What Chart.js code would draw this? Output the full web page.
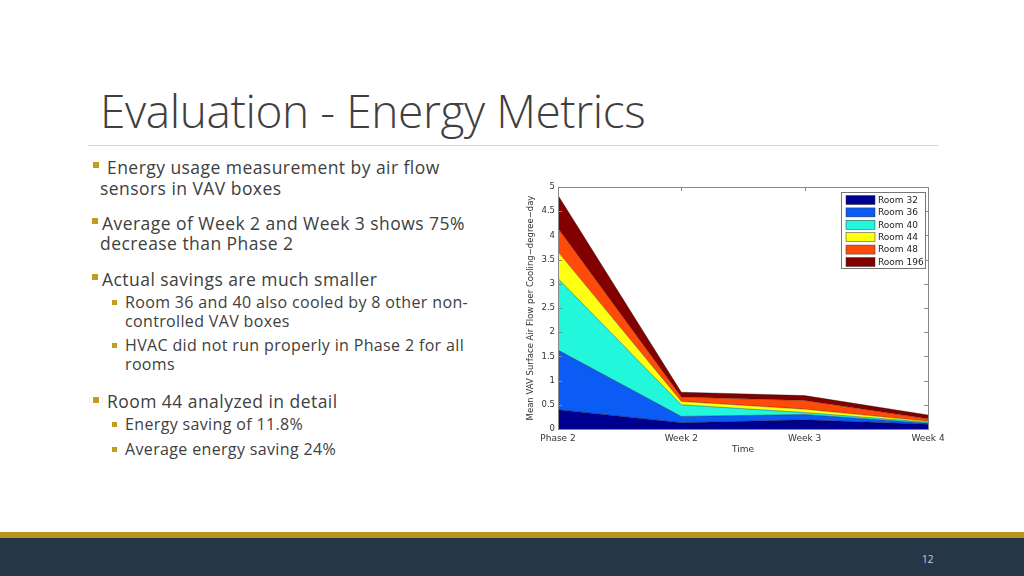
<!DOCTYPE html>
<html lang="en">
  <head>
    <meta charset="UTF-8" />
    <script src="https://cdn.jsdelivr.net/npm/chart.js"></script>
    <title>Evaluation - Energy Metrics</title>
    <style>
      body { margin: 0; width: 1024px; height: 576px; position: relative; overflow: hidden; background: #fff; font-family: "Open Sans", sans-serif; color: #404040; }
      #titulo { position: absolute; left: 100px; top: 79px; font-size: 46px; font-weight: 300; letter-spacing: -0.4px; white-space: nowrap; }
      #linha { position: absolute; left: 88px; top: 145px; width: 850px; height: 1px; background: #d6d6d6; }
      .t { position: absolute; white-space: nowrap; font-size: 17.5px; letter-spacing: 0.45px; line-height: 20px; }
      .s { position: absolute; white-space: nowrap; font-size: 16px; letter-spacing: 0.35px; line-height: 19px; }
      .q { position: absolute; width: 6px; height: 6px; background: #c39b1e; }
      .qs { position: absolute; width: 5px; height: 5px; background: #c39b1e; }
      #ouro { position: absolute; left: 0; top: 532px; width: 1024px; height: 6px; background: #b9951b; }
      #rodape { position: absolute; left: 0; top: 538px; width: 1024px; height: 38px; background: #253746; }
      #pagina { position: absolute; left: 922px; top: 552px; font-size: 10px; color: #c8d2dc; }
      #grafico { position: absolute; left: 526px; top: 178px; width: 432px; height: 277px; }
    </style>
  </head>
  <body>
    <div id="titulo">Evaluation - Energy Metrics</div>
    <div id="linha"></div>

    <div class="q" style="left:93px; top:162px"></div>
    <div class="t" style="left:107px; top:157px">Energy usage measurement by air flow</div>
    <div class="t" style="left:100px; top:178px">sensors in VAV boxes</div>

    <div class="q" style="left:92px; top:218px"></div>
    <div class="t" style="left:102px; top:213px">Average of Week 2 and Week 3 shows 75%</div>
    <div class="t" style="left:100px; top:233px">decrease than Phase 2</div>

    <div class="q" style="left:92px; top:274px"></div>
    <div class="t" style="left:102px; top:269px">Actual savings are much smaller</div>
    <div class="qs" style="left:112px; top:300px"></div>
    <div class="s" style="left:125px; top:293px">Room 36 and 40 also cooled by 8 other non-</div>
    <div class="s" style="left:125px; top:312px">controlled VAV boxes</div>
    <div class="qs" style="left:112px; top:343px"></div>
    <div class="s" style="left:125px; top:336px">HVAC did not run properly in Phase 2 for all</div>
    <div class="s" style="left:125px; top:355px">rooms</div>

    <div class="q" style="left:93px; top:397px"></div>
    <div class="t" style="left:107px; top:391px">Room 44 analyzed in detail</div>
    <div class="qs" style="left:112px; top:422px"></div>
    <div class="s" style="left:125px; top:415px">Energy saving of 11.8%</div>
    <div class="qs" style="left:112px; top:447px"></div>
    <div class="s" style="left:125px; top:440px">Average energy saving 24%</div>

    <div id="grafico"><canvas id="myChart"></canvas></div>

    <div id="ouro"></div>
    <div id="rodape"></div>
    <div id="pagina">12</div>
  </body>
  <script>
    // dados (valores por sala, empilhados)
    const periodos = ["Phase 2", "Week 2", "Week 3", "Week 4"];
    const room32 = [0.40, 0.13, 0.19, 0.10];
    const room36 = [1.23, 0.13, 0.11, 0.02];
    const room40 = [1.48, 0.24, 0.04, 0.02];
    const room44 = [0.55, 0.07, 0.07, 0.02];
    const room48 = [0.49, 0.09, 0.18, 0.05];
    const room196 = [0.68, 0.10, 0.10, 0.08];
    const yTicks = [0, 0.5, 1, 1.5, 2, 2.5, 3, 3.5, 4, 4.5, 5];

    const salas = [
      { label: "Room 32", data: room32, cor: "#00008f" },
      { label: "Room 36", data: room36, cor: "#0a5cf5" },
      { label: "Room 40", data: room40, cor: "#22f7dc" },
      { label: "Room 44", data: room44, cor: "#ffff10" },
      { label: "Room 48", data: room48, cor: "#ff4a0a" },
      { label: "Room 196", data: room196, cor: "#820000" },
    ];

    // caixa em volta da area e ticks internos (estilo matlab)
    const caixa = {
      id: "caixa",
      afterDatasetsDraw(chart) {
        const c = chart.ctx;
        const a = chart.chartArea;
        const y = chart.scales.y;
        const x = chart.scales.x;
        c.save();
        c.strokeStyle = "#8a8a8a";
        c.lineWidth = 1;
        c.strokeRect(a.left + 0.5, a.top + 0.5, a.right - a.left, a.bottom - a.top);
        c.beginPath();
        yTicks.forEach(function (v) {
          const py = Math.round(y.getPixelForValue(v)) + 0.5;
          c.moveTo(a.right, py);
          c.lineTo(a.right - 4, py);
          c.moveTo(a.left, py);
          c.lineTo(a.left + 4, py);
        });
        periodos.forEach(function (p, i) {
          const px = Math.round(x.getPixelForValue(i)) + 0.5;
          c.moveTo(px, a.top);
          c.lineTo(px, a.top + 4);
        });
        c.stroke();

        // legenda dentro do grafico
        const w = 84, h = 76;
        const lx = a.right - w - 3, ly = a.top + 5;
        c.fillStyle = "#fff";
        c.fillRect(lx, ly, w, h);
        c.strokeStyle = "#777";
        c.strokeRect(lx + 0.5, ly + 0.5, w, h);
        c.font = "9px 'DejaVu Sans', sans-serif";
        c.textBaseline = "middle";
        chart.data.datasets.forEach(function (ds, i) {
          const ry = ly + 8 + i * 12.4;
          c.fillStyle = ds.backgroundColor;
          c.fillRect(lx + 5, ry - 4.5, 29, 9);
          c.strokeStyle = "#333";
          c.lineWidth = 0.5;
          c.strokeRect(lx + 5, ry - 4.5, 29, 9);
          c.fillStyle = "#222";
          c.fillText(ds.label, lx + 37, ry + 0.5);
        });
        c.restore();
      },
    };

    const ctx = document.getElementById("myChart");

    new Chart(ctx, {
      type: "line",
      data: {
        labels: periodos,
        datasets: salas.map(function (s, i) {
          return {
            label: s.label,
            data: s.data,
            backgroundColor: s.cor,
            borderColor: "rgba(0,0,0,0.55)",
            borderWidth: 0.6,
            pointRadius: 0,
            tension: 0,
            fill: i === 0 ? "origin" : "-1",
          };
        }),
      },
      options: {
        responsive: true,
        maintainAspectRatio: false,
        animation: false,
        layout: { padding: { top: 9, right: 30, bottom: 0, left: 0 } },
        plugins: { legend: { display: false }, tooltip: { enabled: false } },
        scales: {
          x: {
            offset: false,
            grid: { display: false, drawTicks: false },
            border: { display: false },
            ticks: { color: "#333", font: { size: 9, family: "DejaVu Sans" }, padding: 4, maxRotation: 0, autoSkip: false },
            title: { display: true, text: "Time", color: "#333", font: { size: 9, family: "DejaVu Sans" }, padding: 0 },
            afterFit: function (s) { s.height = 26; },
          },
          y: {
            stacked: true,
            min: 0,
            max: 5,
            grid: { display: false, drawTicks: false },
            border: { display: false },
            afterBuildTicks: function (s) { s.ticks = yTicks.map(function (v) { return { value: v }; }); },
            ticks: {
              color: "#333",
              font: { size: 8.5, family: "DejaVu Sans" },
              padding: 3,
              callback: function (v) { return String(v); },
            },
            title: {
              display: true,
              text: "Mean VAV Surface Air Flow per Cooling\u2212degree\u2212day",
              color: "#333",
              font: { size: 8.5, family: "DejaVu Sans" },
              padding: 0,
            },
            afterFit: function (s) { s.width = 32; },
          },
        },
      },
      plugins: [caixa],
    });
  </script>
</html>
